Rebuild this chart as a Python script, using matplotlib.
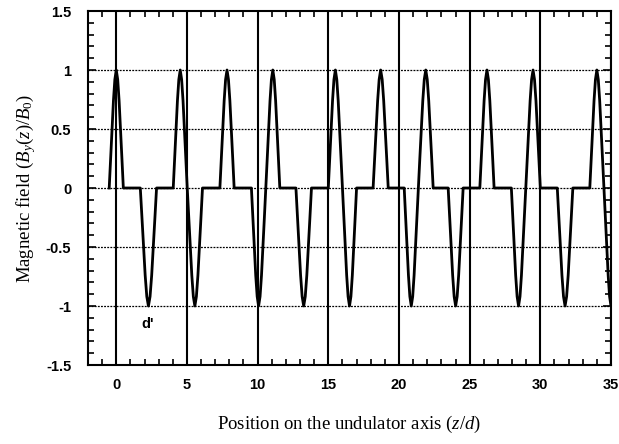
import numpy as np
import matplotlib.pyplot as plt
from matplotlib.ticker import MultipleLocator

# pulse edges (z/d) and polarity
pulse_start = [-0.5, 1.70, 4.03, 5.02, 7.33, 9.56, 10.58, 12.71, 15.0, 16.0,
               18.17, 20.37, 21.37, 23.48, 25.72, 27.95, 28.97, 31.20, 33.5, 34.5]
pulse_end = [0.5, 2.85, 5.02, 6.10, 8.34, 10.58, 11.57, 13.81, 16.0, 17.0,
             19.24, 21.37, 22.42, 24.54, 26.73, 28.97, 30.00, 32.30, 34.5, 35.5]
pulse_sign = [1, -1, 1, -1, 1, -1, 1, -1, 1, -1,
              1, -1, 1, -1, 1, -1, 1, -1, 1, -1]
# shape of one pole (normalised field across the pole width)
lobe_profile = [0.0, 0.25, 0.5, 0.74, 0.92, 1.0, 0.92, 0.74, 0.5, 0.25, 0.0]

x_ticks = [0, 5, 10, 15, 20, 25, 30, 35]
y_ticks = [-1.5, -1, -0.5, 0, 0.5, 1, 1.5]
y_ticklabels = ['-1.5', '-1', '-0.5', '0', '0.5', '1', '1.5']

plt.rcParams['mathtext.fontset'] = 'custom'
plt.rcParams['mathtext.rm'] = 'Liberation Serif'
plt.rcParams['mathtext.it'] = 'Liberation Serif:italic'

# build the curve from the pulses
zs, bs = [], []
t = np.linspace(0, 1, len(lobe_profile))
for s, e, sg in zip(pulse_start, pulse_end, pulse_sign):
    zs.extend(s + t * (e - s))
    bs.extend(sg * np.array(lobe_profile))

fig = plt.figure(figsize=(6.19, 4.44), dpi=100)
ax = fig.add_axes([88 / 619, 79 / 444, 523 / 619, 354 / 444])

# grid: solid verticals, dotted horizontals
for xv in x_ticks:
    ax.axvline(xv, color='k', lw=1.5, zorder=1)
for yv in [-1, -0.5, 0, 0.5, 1]:
    ax.axhline(yv, color='k', lw=0.9, ls=(0, (1.5, 1)), zorder=1)

ax.plot(zs, bs, color='k', lw=2, zorder=3)

ax.text(2.2, -1.15, "d'", fontsize=10.5, fontweight='bold',
        family='Liberation Sans', ha='center', va='center')

ax.set_xlim(-2, 35)
ax.set_ylim(-1.5, 1.5)
ax.set_xticks(x_ticks)
ax.set_yticks(y_ticks)
ax.set_yticklabels(y_ticklabels)
ax.xaxis.set_minor_locator(MultipleLocator(1))
ax.yaxis.set_minor_locator(MultipleLocator(0.1))
ax.tick_params(which='both', direction='in', top=True, right=True, width=1.2)
ax.tick_params(which='major', length=6)
ax.tick_params(which='minor', length=4)
ax.tick_params(axis='x', which='major', pad=9)
ax.tick_params(axis='y', which='major', pad=12)
for lbl in ax.get_xticklabels() + ax.get_yticklabels():
    lbl.set_family('Liberation Sans')
    lbl.set_fontweight('bold')
    lbl.set_fontsize(10.5)

for sp in ax.spines.values():
    sp.set_linewidth(1.5)

ax.set_xlabel('Position on the undulator axis ($z/d$)', family='Liberation Serif',
              fontsize=13.5, labelpad=16)
ax.set_ylabel('Magnetic field ($B_y(z)/B_0$)', family='Liberation Serif',
              fontsize=13.5, labelpad=6)

fig.savefig('out.png', dpi=100)
